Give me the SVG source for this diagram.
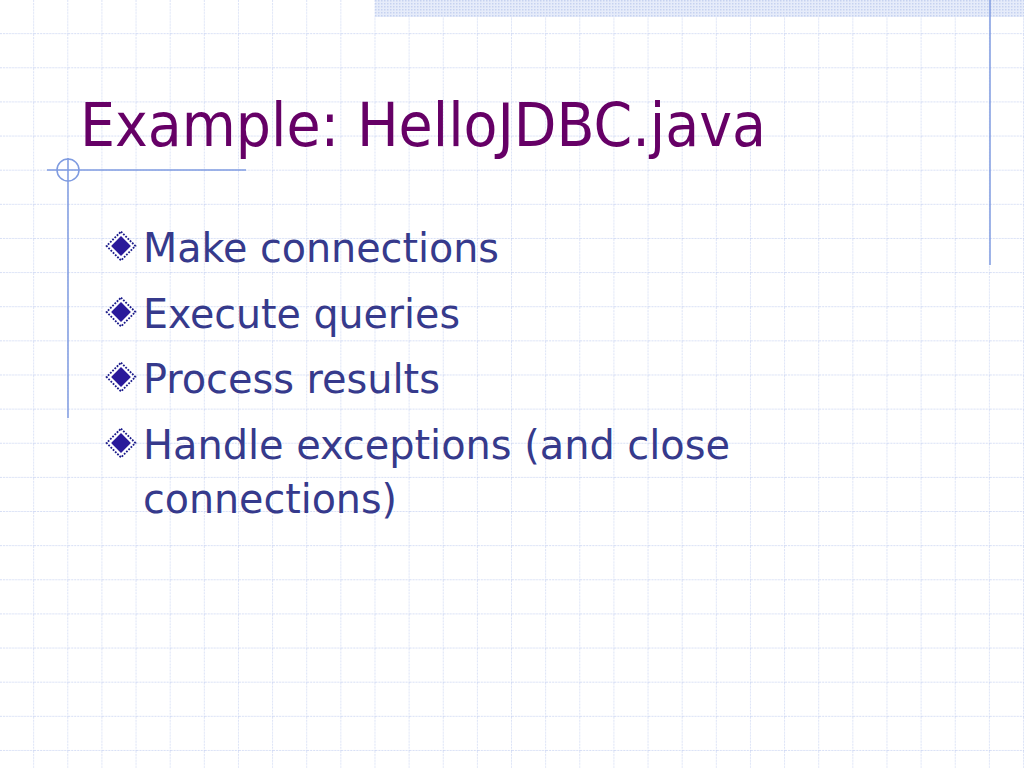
<svg xmlns="http://www.w3.org/2000/svg" width="1024" height="768" viewBox="0 0 1024 768">
<defs>
<pattern id="grid" width="34.133" height="34.133" patternUnits="userSpaceOnUse" x="0" y="0">
<path d="M34.133 0V34.133M0 34.133H34.133" fill="none" stroke="#c9d4f2" stroke-width="1.3" stroke-dasharray="2 1"/>
</pattern>
<pattern id="dots" width="3" height="3" patternUnits="userSpaceOnUse">
<rect width="3" height="3" fill="#e6ecfa"/><rect width="1.5" height="1.5" fill="#c6d2f0"/>
</pattern>
<g id="bul">
<path d="M0 -16L16 0L0 16L-16 0Z" fill="#fff" stroke="#1a1a8a" stroke-width="2" stroke-dasharray="2 1.5"/>
<path d="M0 -11L11 0L0 11L-11 0Z" fill="#2a1a9a"/>
</g>
<style>
.t{font-family:"DejaVu Sans Condensed","DejaVu Sans",sans-serif;}
.b{font-size:40px;fill:#363a8c;}
</style>
</defs>
<rect width="1024" height="768" fill="#fff"/>
<rect width="1024" height="768" fill="url(#grid)"/>
<rect x="375" y="0" width="649" height="17" fill="url(#dots)"/>
<g id="decor" stroke="#7f9be0" stroke-width="1.5" fill="none">
<line x1="990" y1="0" x2="990" y2="265"/>
<line x1="47" y1="170" x2="246" y2="170"/>
<line x1="68" y1="158" x2="68" y2="418"/>
<circle cx="68" cy="170" r="11"/>
</g>
<g id="title"><text class="t" x="80" y="146" font-size="61" fill="#660066" textLength="686" lengthAdjust="spacingAndGlyphs">Example: HelloJDBC.java</text></g>
<g id="bullets">
<use href="#bul" transform="translate(121,246) scale(0.9)"/>
<use href="#bul" transform="translate(121,312) scale(0.9)"/>
<use href="#bul" transform="translate(121,377) scale(0.9)"/>
<use href="#bul" transform="translate(121,443) scale(0.9)"/>
<text class="t b" x="143" y="262" textLength="356" lengthAdjust="spacingAndGlyphs">Make connections</text>
<text class="t b" x="143" y="328" textLength="317" lengthAdjust="spacingAndGlyphs">Execute queries</text>
<text class="t b" x="143" y="393" textLength="297" lengthAdjust="spacingAndGlyphs">Process results</text>
<text class="t b" x="143" y="459" textLength="587" lengthAdjust="spacingAndGlyphs">Handle exceptions (and close</text>
<text class="t b" x="143" y="513" textLength="254" lengthAdjust="spacingAndGlyphs">connections)</text>
</g>
</svg>
